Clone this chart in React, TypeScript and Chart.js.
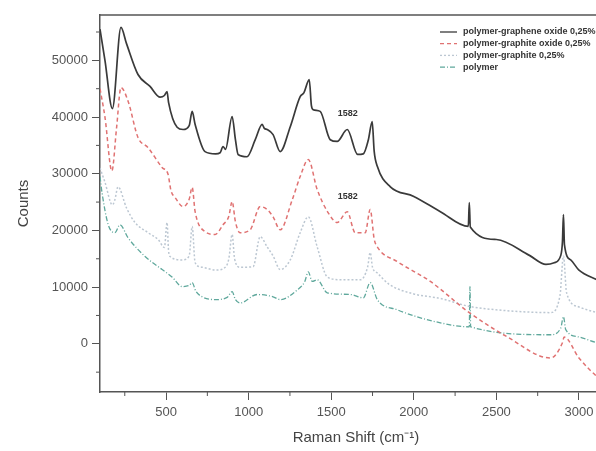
import React, { useEffect, useRef } from "react";
import { Chart, registerables } from "chart.js";

Chart.register(...registerables);

// Raman shift (cm-1) / counts for each sample
const GO_X = [100, 130, 175, 227, 260, 330, 403, 464, 490, 506, 515, 567, 603, 640, 658, 676, 736, 800, 827, 845, 860, 900, 920, 936, 990, 1040, 1082, 1095, 1112, 1148, 1191, 1252, 1312, 1335, 1367, 1380, 1391, 1433, 1494, 1536, 1597, 1660, 1694, 1725, 1748, 1760, 1779, 1858, 2000, 2161, 2330, 2336, 2342, 2500, 2700, 2800, 2850, 2890, 2900, 2906, 2912, 2950, 3000, 3110, 3200];
const GO_Y = [55500, 50000, 41500, 55800, 53000, 47500, 45400, 43500, 43800, 44500, 42600, 38200, 37800, 38500, 41000, 38700, 33900, 33500, 33700, 34800, 34300, 40100, 36000, 33400, 33000, 36000, 38700, 38000, 37800, 36900, 33900, 38300, 43600, 44300, 46600, 42000, 41300, 41000, 36000, 35700, 37800, 33400, 33500, 36000, 39200, 34000, 31300, 27700, 26000, 23300, 20700, 24900, 20600, 18400, 15600, 14000, 14300, 15600, 18000, 22800, 17500, 14800, 13000, 11300, 10000];

const GRO_X = [100, 130, 172, 200, 227, 270, 330, 391, 476, 512, 530, 555, 603, 640, 658, 676, 736, 797, 845, 880, 900, 920, 948, 1009, 1070, 1112, 1148, 1191, 1264, 1312, 1361, 1415, 1482, 1536, 1597, 1645, 1706, 1736, 1760, 1779, 1900, 2100, 2336, 2567, 2827, 2900, 2910, 3000, 3110, 3200];
const GRO_Y = [45000, 40000, 30500, 38000, 45200, 42800, 36400, 34600, 31100, 29900, 27000, 25800, 24200, 25500, 27600, 23300, 19800, 19300, 21000, 22500, 25100, 21500, 19600, 20100, 24200, 23700, 22400, 20100, 25400, 29500, 32500, 27200, 23100, 21400, 23300, 19600, 19600, 23700, 18500, 17100, 14500, 11000, 5500, 1200, -2500, 200, 1200, -2500, -5800, -7800];

const GR_X = [100, 130, 175, 190, 209, 260, 312, 391, 452, 490, 506, 515, 524, 597, 640, 658, 676, 720, 800, 858, 880, 900, 915, 948, 1027, 1070, 1112, 1148, 1191, 1252, 1312, 1361, 1415, 1476, 1555, 1676, 1720, 1736, 1750, 1779, 1850, 2000, 2161, 2336, 2500, 2827, 2885, 2906, 2925, 3000, 3110, 3200];
const GR_Y = [31000, 28500, 24500, 25400, 27700, 24000, 21400, 19600, 18400, 17000, 21400, 16500, 15400, 14800, 15500, 20700, 14300, 13500, 13000, 13500, 15000, 19300, 15000, 13500, 13600, 18900, 17100, 15500, 13100, 14800, 19600, 22400, 17100, 11800, 11300, 11300, 13500, 16100, 13500, 12500, 10500, 8800, 8000, 6600, 6000, 5500, 8500, 15500, 9000, 6500, 5500, 5000];

const P_X = [100, 112, 150, 190, 221, 270, 373, 476, 536, 597, 640, 658, 680, 718, 800, 870, 900, 920, 948, 1051, 1148, 1191, 1294, 1340, 1361, 1385, 1415, 1476, 1615, 1694, 1736, 1779, 1900, 2161, 2336, 2340, 2344, 2827, 2890, 2906, 2920, 3000, 3110, 3200];
const P_Y = [29500, 26700, 21000, 19600, 21000, 18700, 15400, 13100, 11800, 10100, 10300, 10800, 9300, 8300, 7800, 8200, 9200, 7800, 7200, 8700, 8300, 7800, 9500, 11000, 12700, 11000, 11300, 9000, 8700, 8100, 10800, 7800, 6000, 3700, 3000, 10100, 3000, 1600, 2800, 4800, 2500, 1200, 200, -300];

const SERIES_LABELS = [
  "polymer-graphene oxide 0,25%",
  "polymer-graphite oxide 0,25%",
  "polymer-graphite 0,25%",
  "polymer",
];

const X_TICKS = [500, 1000, 1500, 2000, 2500, 3000];
const X_MINOR = [250, 750, 1250, 1750, 2250, 2750];
const Y_TICKS = [0, 10000, 20000, 30000, 40000, 50000];
const Y_MINOR = [-5000, 5000, 15000, 25000, 35000, 45000, 55000];

const PEAK_TEXT = ["1582", "1582"];
const PEAK_X = [1600, 1600];
const PEAK_Y = [40600, 26000];

const toPts = (xs: number[], ys: number[]) => xs.map((x, i) => ({ x, y: ys[i] }));

const AXIS_COLOR = "#555";
const FONT = '"Liberation Sans", Arial, sans-serif';

const decorPlugin = {
  id: "decor",
  afterDraw(chart: any) {
    const ctx = chart.ctx;
    const area = chart.chartArea;
    const xs = chart.scales.x;
    const ys = chart.scales.y;
    ctx.save();
    // top frame
    ctx.strokeStyle = AXIS_COLOR;
    ctx.lineWidth = 1.5;
    ctx.beginPath();
    ctx.moveTo(area.left, area.top);
    ctx.lineTo(area.right, area.top);
    ctx.stroke();
    // minor ticks
    ctx.lineWidth = 1;
    X_MINOR.forEach((v) => {
      const px = xs.getPixelForValue(v);
      ctx.beginPath();
      ctx.moveTo(px, area.bottom);
      ctx.lineTo(px, area.bottom + 4);
      ctx.stroke();
    });
    Y_MINOR.forEach((v) => {
      const py = ys.getPixelForValue(v);
      ctx.beginPath();
      ctx.moveTo(area.left, py);
      ctx.lineTo(area.left - 4, py);
      ctx.stroke();
    });
    // peak annotations
    ctx.fillStyle = "#333";
    ctx.font = `bold 9px ${FONT}`;
    ctx.textAlign = "center";
    ctx.textBaseline = "middle";
    PEAK_TEXT.forEach((t, i) => {
      ctx.fillText(t, xs.getPixelForValue(PEAK_X[i]), ys.getPixelForValue(PEAK_Y[i]));
    });
    // legend
    ctx.textAlign = "left";
    chart.data.datasets.forEach((ds: any, i: number) => {
      const y = 32 + i * 11.7;
      ctx.strokeStyle = ds.borderColor;
      ctx.lineWidth = 1.3;
      ctx.setLineDash(ds.borderDash || []);
      ctx.beginPath();
      ctx.moveTo(440, y);
      ctx.lineTo(457, y);
      ctx.stroke();
      ctx.setLineDash([]);
      ctx.fillStyle = "#333";
      ctx.fillText(ds.label, 463, y);
    });
    ctx.restore();
  },
};

export default function App() {
  const ref = useRef<HTMLCanvasElement>(null);
  useEffect(() => {
    if (!ref.current) return;
    const chart = new Chart(ref.current, {
      type: "line",
      data: {
        datasets: [
          {
            label: SERIES_LABELS[0],
            data: toPts(GO_X, GO_Y),
            borderColor: "#3a3a3a",
            borderWidth: 1.7,
            pointRadius: 0,
            cubicInterpolationMode: "monotone",
          },
          {
            label: SERIES_LABELS[1],
            data: toPts(GRO_X, GRO_Y),
            borderColor: "#e07272",
            borderWidth: 1.5,
            borderDash: [4, 3],
            pointRadius: 0,
            cubicInterpolationMode: "monotone",
          },
          {
            label: SERIES_LABELS[2],
            data: toPts(GR_X, GR_Y),
            borderColor: "#bcc7d2",
            borderWidth: 1.5,
            borderDash: [2, 2],
            pointRadius: 0,
            cubicInterpolationMode: "monotone",
          },
          {
            label: SERIES_LABELS[3],
            data: toPts(P_X, P_Y),
            borderColor: "#5fa89c",
            borderWidth: 1.3,
            borderDash: [5, 2, 1, 2],
            pointRadius: 0,
            cubicInterpolationMode: "monotone",
          },
        ],
      },
      options: {
        animation: false,
        responsive: false,
        layout: { padding: { top: 15, left: 0, right: 0, bottom: 0 } },
        plugins: { legend: { display: false }, tooltip: { enabled: false } },
        scales: {
          x: {
            type: "linear",
            min: 100,
            max: 3200,
            afterBuildTicks: (s: any) => {
              s.ticks = X_TICKS.map((v) => ({ value: v }));
            },
            afterFit: (s: any) => {
              s.height = 59;
              s.paddingLeft = 0;
              s.paddingRight = 0;
            },
            border: { display: true, color: AXIS_COLOR, width: 1.5 },
            grid: { display: true, drawOnChartArea: false, drawTicks: true, tickLength: 8, color: AXIS_COLOR },
            ticks: {
              color: "#555",
              font: { family: FONT, size: 13 },
              padding: 5,
              maxRotation: 0,
              callback: (v: any) => String(v),
            },
            title: {
              display: true,
              text: "Raman Shift (cm⁻¹)",
              color: "#444",
              font: { family: FONT, size: 15 },
              padding: { top: 0, bottom: 4 },
            },
          },
          y: {
            min: -8500,
            max: 58000,
            afterBuildTicks: (s: any) => {
              s.ticks = Y_TICKS.map((v) => ({ value: v }));
            },
            afterFit: (s: any) => {
              s.width = 100;
              s.paddingTop = 0;
              s.paddingBottom = 0;
            },
            border: { display: true, color: AXIS_COLOR, width: 1.5 },
            grid: { display: true, drawOnChartArea: false, drawTicks: true, tickLength: 8, color: AXIS_COLOR },
            ticks: {
              color: "#555",
              font: { family: FONT, size: 13 },
              padding: 4,
              callback: (v: any) => String(v),
            },
            title: {
              display: true,
              text: "Counts",
              color: "#444",
              font: { family: FONT, size: 15 },
              padding: { top: 15, bottom: 0 },
            },
          },
        },
      },
      plugins: [decorPlugin],
    } as any);
    return () => chart.destroy();
  }, []);

  return (
    <div style={{ position: "fixed", left: 0, top: 0, width: 596, height: 451, overflow: "hidden", background: "#fff" }}>
      <div style={{ position: "absolute", left: 0, top: 0, width: 612, height: 451 }}>
        <canvas ref={ref} width={612} height={451} style={{ width: 612, height: 451, display: "block" }} />
      </div>
    </div>
  );
}
